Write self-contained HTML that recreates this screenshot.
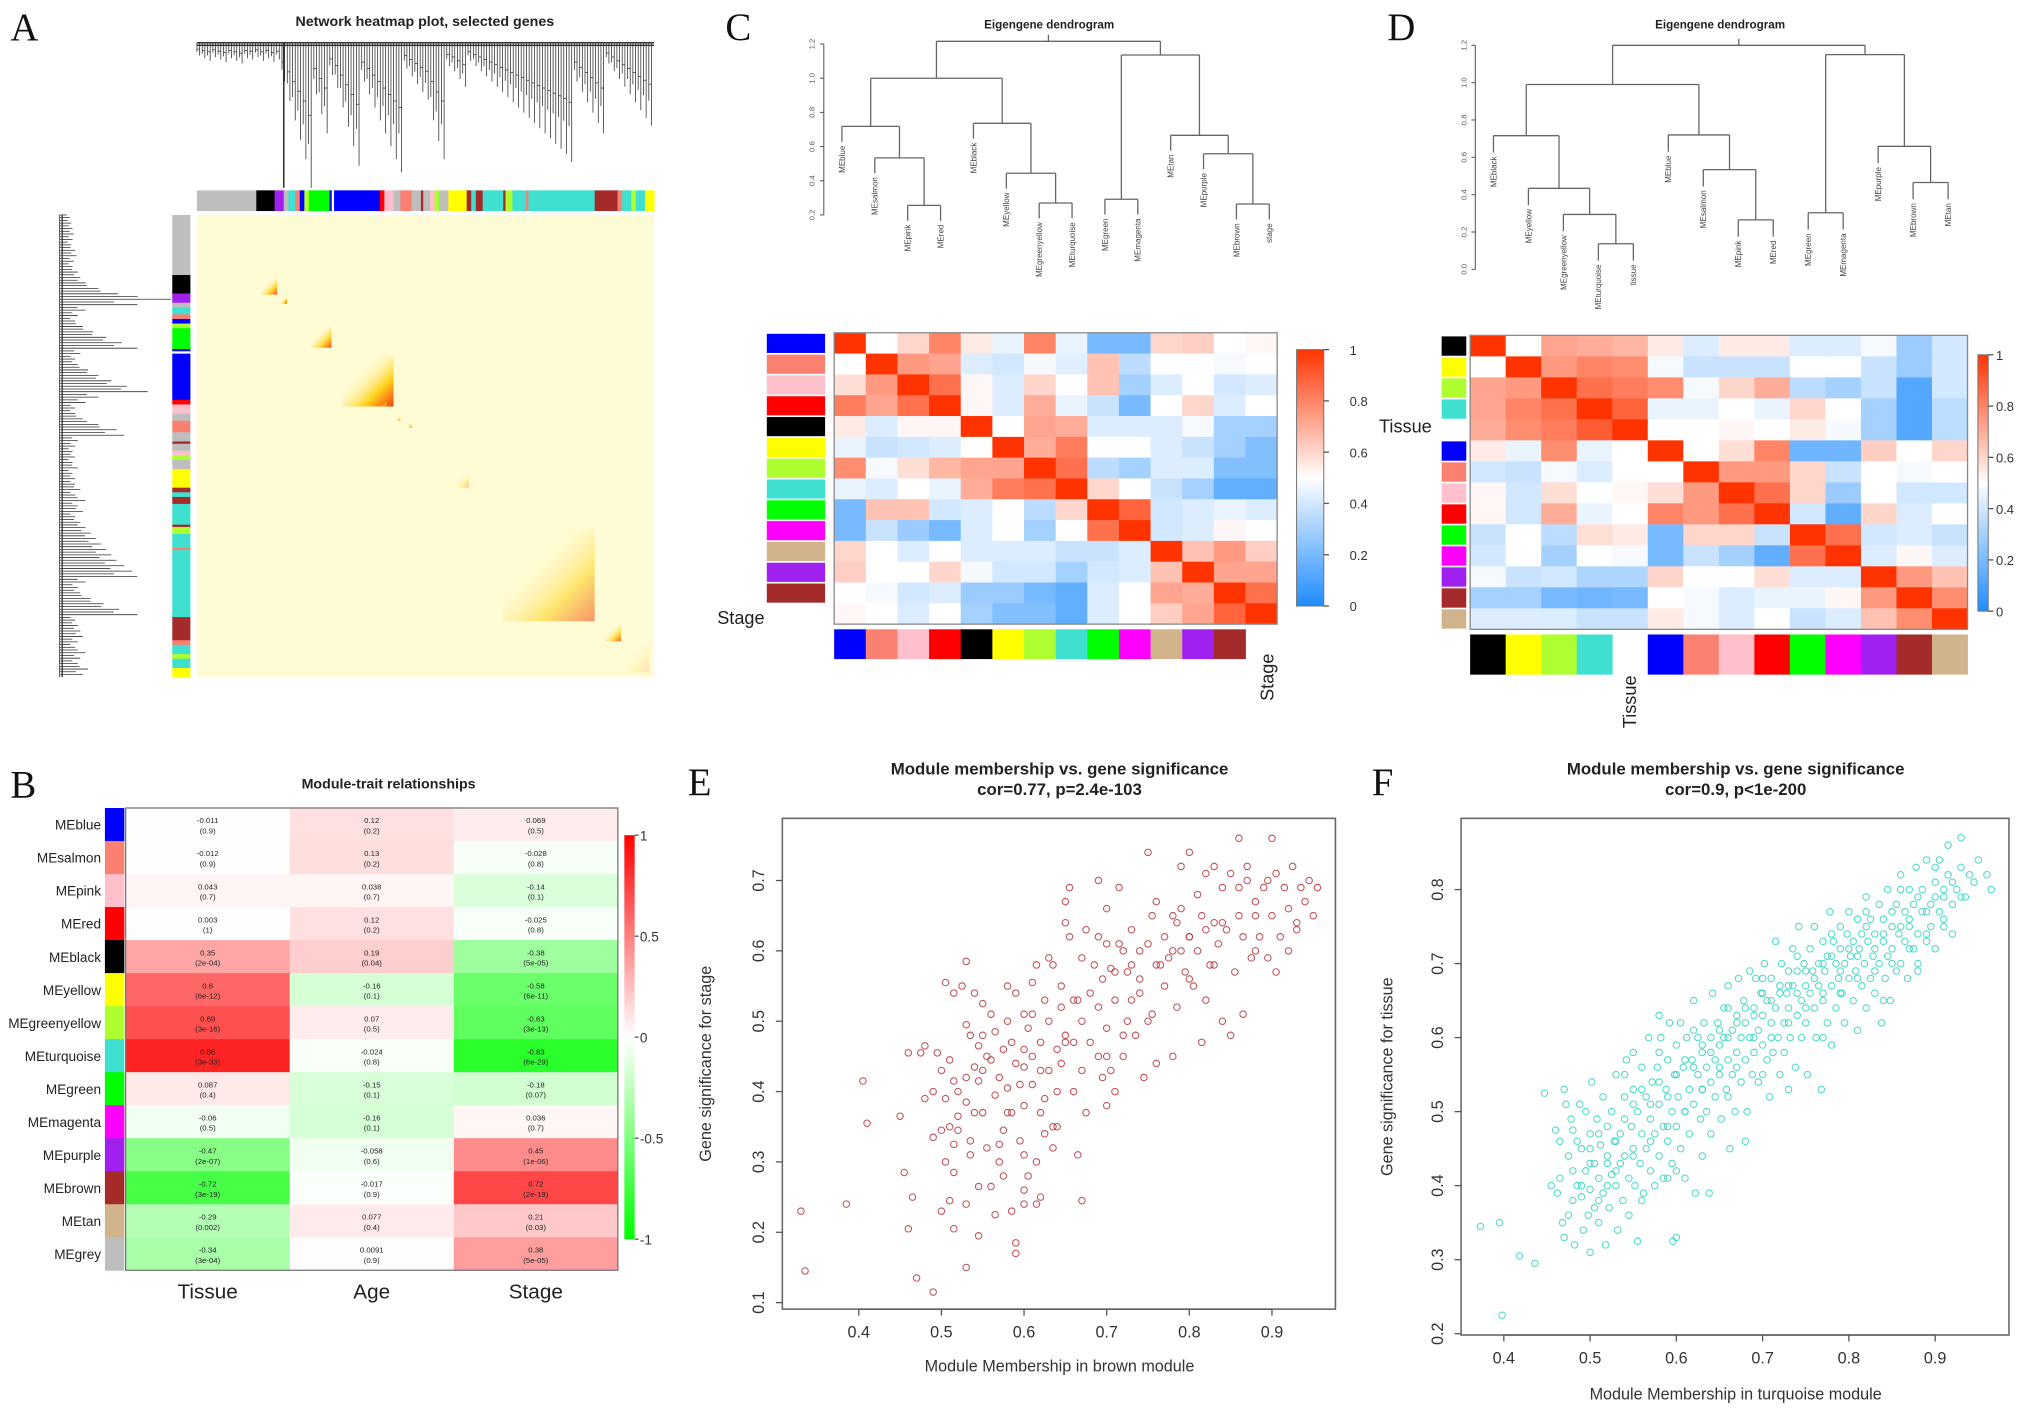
<!DOCTYPE html>
<html><head><meta charset="utf-8"><title>WGCNA figure</title>
<style>
html,body{margin:0;padding:0;background:#fff;}
svg{display:block;font-family:"Liberation Sans",sans-serif;}
.lt{font-family:"Liberation Serif",serif;font-size:30px;fill:#111;}
</style></head>
<body>
<svg id="fig" xmlns="http://www.w3.org/2000/svg" width="2031" height="1414" viewBox="0 0 1568 1092" preserveAspectRatio="none">
<text class="lt" x="8" y="31">A</text>
<text class="lt" x="8" y="616">B</text>
<text class="lt" x="560" y="31">C</text>
<text class="lt" x="1071" y="31">D</text>
<text class="lt" x="531" y="614">E</text>
<text class="lt" x="1059" y="614">F</text>
<g id="pA"></g>
<g id="pB"></g>
<g id="pC"></g>
<g id="pD"></g>
<g id="pE"></g>
<g id="pF"></g>
</svg>
<script>
const NS="http://www.w3.org/2000/svg";
const MC={blue:'#0000ff',salmon:'#fa8072',pink:'#ffc0cb',red:'#ff0000',black:'#000000',yellow:'#ffff00',greenyellow:'#adff2f',turquoise:'#40e0d0',green:'#00ff00',magenta:'#ff00ff',purple:'#a020f0',brown:'#a52a2a',tan:'#d2b48c',grey:'#bebebe',white:'#ffffff'};

// ---------- Panel A data ----------
const aModuleSegs=[[0,'grey'],[.13,'black'],[.17,'purple'],[.19,'grey'],[.2,'turquoise'],[.215,'salmon'],[.225,'blue'],[.235,'greenyellow'],[.245,'green'],[.29,'blue'],[.295,'white'],[.3,'blue'],[.4,'red'],[.41,'pink'],[.43,'grey'],[.445,'salmon'],[.47,'grey'],[.49,'brown'],[.495,'grey'],[.51,'pink'],[.52,'greenyellow'],[.53,'grey'],[.55,'yellow'],[.59,'brown'],[.6,'turquoise'],[.61,'brown'],[.625,'turquoise'],[.67,'brown'],[.675,'greenyellow'],[.69,'turquoise'],[.72,'salmon'],[.725,'turquoise'],[.87,'brown'],[.92,'salmon'],[.93,'turquoise'],[.95,'greenyellow'],[.96,'turquoise'],[.98,'yellow']];
const aTopBranch=[10,12,14,11,13,15,12,14,16,12,13,11,14,12,15,13,30,45,60,75,90,112,40,55,70,25,35,50,65,80,95,30,40,50,60,70,80,90,100,20,26,32,38,44,60,76,90,18,22,28,34,14,18,22,26,30,34,38,42,46,50,54,58,62,66,70,74,78,82,86,92,30,38,46,54,62,70,16,22,28,34,40,46,52,58,64];
const aLeftBranch=[8,9,10,11,10,9,12,13,11,10,14,16,20,30,45,86,60,20,14,12,18,26,36,48,60,16,12,14,22,30,40,52,68,30,20,12,12,18,30,44,50,14,12,10,12,10,14,10,12,12,16,12,20,14,18,12,16,20,24,28,32,36,40,44,50,56,60,20,14,16,24,34,46,60,12,14,16,18,14,12,20,16,14,22,18];
const aBlocks=[[.158,.155,.035,.9],[.19,.185,.014,1],[.272,.265,.045,.9],[.375,.36,.11,1],[.41,.41,.01,.7],[.44,.44,.01,.7],[.465,.455,.01,.8],[.58,.575,.03,.3],[.77,.78,.2,.55],[.91,.905,.035,.8],[.96,.96,.06,.15]];

// ---------- Panel B data ----------
const bModules=['blue','salmon','pink','red','black','yellow','greenyellow','turquoise','green','magenta','purple','brown','tan','grey'];
const bTraits=['Tissue','Age','Stage'];
const bCor=[[-0.011,0.12,0.069],[-0.012,0.13,-0.028],[0.043,0.038,-0.14],[0.003,0.12,-0.025],[0.35,0.19,-0.38],[0.6,-0.16,-0.58],[0.69,0.07,-0.63],[0.86,-0.024,-0.83],[0.087,-0.15,-0.18],[-0.06,-0.16,0.036],[-0.47,-0.058,0.45],[-0.72,-0.017,0.72],[-0.29,0.077,0.21],[-0.34,0.0091,0.38]];
const bP=[['0.9','0.2','0.5'],['0.9','0.2','0.8'],['0.7','0.7','0.1'],['1','0.2','0.8'],['2e-04','0.04','5e-05'],['6e-12','0.1','6e-11'],['3e-16','0.5','3e-13'],['3e-33','0.8','6e-29'],['0.4','0.1','0.07'],['0.5','0.1','0.7'],['2e-07','0.6','1e-06'],['3e-19','0.9','2e-19'],['0.002','0.4','0.03'],['3e-04','0.9','5e-05']];
const bLegendTicks=[1,0.5,0,-0.5,-1];

// ---------- Panel C data ----------
const cOrder=['blue','salmon','pink','red','black','yellow','greenyellow','turquoise','green','magenta','tan','purple','brown','stage'];
const cMat=[
[1,.5,.6,.8,.55,.45,.8,.45,.2,.2,.6,.62,.5,.52],
[.5,1,.75,.72,.42,.4,.48,.43,.65,.35,.5,.5,.48,.5],
[.58,.75,1,.85,.52,.42,.6,.5,.65,.3,.42,.5,.4,.42],
[.82,.72,.85,1,.52,.42,.7,.45,.38,.2,.5,.6,.42,.5],
[.55,.42,.52,.52,1,.5,.72,.7,.42,.42,.42,.48,.3,.3],
[.45,.38,.4,.42,.5,1,.7,.82,.5,.5,.42,.38,.3,.22],
[.78,.48,.58,.68,.72,.72,1,.85,.35,.3,.42,.42,.22,.22],
[.45,.42,.5,.45,.7,.82,.85,1,.6,.5,.38,.3,.15,.15],
[.2,.65,.65,.4,.42,.5,.35,.6,1,.88,.4,.42,.45,.42],
[.2,.38,.28,.2,.42,.5,.3,.5,.85,1,.4,.42,.52,.5],
[.6,.5,.42,.5,.42,.42,.42,.38,.38,.42,1,.65,.75,.62],
[.62,.5,.5,.6,.48,.4,.4,.3,.4,.42,.65,1,.72,.72],
[.5,.48,.4,.42,.28,.28,.2,.15,.42,.5,.72,.7,1,.85],
[.52,.5,.42,.5,.3,.22,.22,.15,.42,.5,.62,.72,.88,1]];
const cLeaves=['MEblue','MEsalmon','MEpink','MEred','MEblack','MEyellow','MEgreenyellow','MEturquoise','MEgreen','MEmagenta','MEtan','MEpurple','MEbrown','stage'];
const cTree={h:1.216,c:[{h:1.0,c:[{h:0.718,c:[0,{h:0.534,c:[1,{h:0.256,c:[2,3]}]}]},{h:0.736,c:[4,{h:0.444,c:[5,{h:0.27,c:[6,7]}]}]}]},{h:1.136,c:[{h:0.292,c:[8,9]},{h:0.666,c:[10,{h:0.558,c:[11,{h:0.264,c:[12,13]}]}]}]}]};
const cAxisTicks=[0.2,0.4,0.6,0.8,1.0,1.2];
const legendTicks01=[0,0.2,0.4,0.6,0.8,1];

// ---------- Panel D data ----------
const dOrder=['black','yellow','greenyellow','turquoise','tissue','blue','salmon','pink','red','green','magenta','purple','brown','tan'];
const dMat=[
[1,.5,.72,.7,.68,.55,.42,.55,.55,.42,.42,.48,.28,.4],
[.5,1,.75,.8,.78,.48,.38,.38,.38,.5,.5,.38,.28,.4],
[.72,.75,1,.85,.82,.78,.48,.6,.7,.35,.3,.38,.12,.4],
[.72,.8,.85,1,.88,.45,.45,.5,.45,.6,.5,.3,.12,.35],
[.7,.78,.82,.9,1,.5,.5,.52,.5,.55,.48,.3,.12,.35],
[.55,.45,.78,.45,.5,1,.5,.58,.8,.18,.18,.62,.5,.6],
[.4,.38,.48,.42,.5,.5,1,.75,.75,.6,.38,.5,.48,.5],
[.52,.4,.58,.5,.52,.58,.75,1,.85,.6,.28,.5,.4,.4],
[.52,.4,.7,.45,.5,.8,.75,.85,1,.4,.15,.6,.42,.5],
[.38,.5,.35,.58,.55,.2,.6,.6,.38,1,.85,.4,.42,.38],
[.4,.5,.3,.5,.48,.2,.38,.3,.15,.85,1,.42,.52,.42],
[.48,.38,.4,.32,.32,.6,.5,.5,.58,.42,.42,1,.75,.65],
[.3,.3,.2,.18,.2,.5,.48,.42,.45,.45,.52,.75,1,.78],
[.42,.42,.42,.38,.38,.55,.48,.42,.5,.38,.42,.65,.78,1]];
const dLeaves=['MEblack','MEyellow','MEgreenyellow','MEturquoise','tissue','MEblue','MEsalmon','MEpink','MEred','MEgreen','MEmagenta','MEpurple','MEbrown','MEtan'];
const dTree={h:1.2,c:[{h:0.99,c:[{h:0.716,c:[0,{h:0.434,c:[1,{h:0.294,c:[2,{h:0.137,c:[3,4]}]}]}]},{h:0.72,c:[5,{h:0.534,c:[6,{h:0.265,c:[7,8]}]}]}]},{h:1.15,c:[{h:0.303,c:[9,10]},{h:0.659,c:[11,{h:0.465,c:[12,13]}]}]}]};
const dAxisTicks=[0.0,0.2,0.4,0.6,0.8,1.0,1.2];

// ---------- Panel E data ----------
const eMM=[.33,.335,.385,.405,.41,.45,.455,.46,.46,.465,.47,.475,.48,.48,.49,.49,.49,.495,.5,.5,.5,.505,.505,.505,.51,.51,.51,.515,.515,.515,.515,.515,.52,.52,.52,.525,.53,.53,.53,.53,.53,.53,.535,.535,.535,.54,.54,.54,.545,.545,.545,.545,.55,.55,.55,.555,.555,.56,.56,.56,.565,.565,.565,.57,.57,.57,.575,.575,.575,.58,.58,.58,.585,.585,.585,.59,.59,.59,.59,.595,.595,.6,.6,.6,.6,.6,.605,.605,.61,.61,.61,.61,.615,.615,.615,.62,.62,.62,.625,.625,.625,.63,.63,.63,.635,.635,.635,.64,.64,.645,.645,.645,.65,.65,.65,.655,.655,.66,.66,.665,.665,.67,.67,.67,.67,.675,.675,.68,.68,.685,.69,.69,.69,.695,.695,.7,.7,.7,.7,.705,.705,.71,.71,.715,.715,.72,.72,.725,.725,.73,.73,.735,.74,.74,.745,.75,.75,.755,.755,.76,.76,.765,.77,.77,.775,.78,.78,.785,.785,.79,.79,.795,.8,.8,.805,.81,.81,.815,.815,.82,.82,.825,.83,.83,.835,.84,.84,.845,.85,.855,.86,.86,.865,.865,.87,.875,.88,.885,.89,.895,.9,.9,.905,.91,.915,.92,.92,.925,.93,.935,.94,.945,.95,.955,.905,.88,.87,.86,.83,.79,.76,.73,.71,.69,.66,.75,.8,.82,.85,.895,.93,.65,.6,.58,.55,.6,.62,.64,.7,.72,.74,.78,.8,.84,.88];
const eGS=[.23,.145,.24,.415,.355,.365,.285,.205,.455,.25,.135,.455,.465,.39,.115,.335,.4,.455,.23,.43,.345,.3,.39,.555,.35,.445,.245,.205,.285,.325,.415,.54,.365,.345,.4,.55,.495,.24,.42,.385,.15,.585,.33,.48,.31,.54,.435,.37,.465,.415,.265,.195,.48,.37,.525,.45,.32,.51,.445,.265,.485,.395,.225,.42,.325,.3,.46,.28,.345,.5,.405,.55,.47,.37,.23,.54,.44,.185,.17,.33,.41,.435,.31,.38,.26,.24,.49,.28,.45,.51,.41,.555,.58,.3,.24,.37,.47,.25,.34,.53,.39,.43,.5,.59,.58,.35,.32,.4,.46,.52,.44,.55,.48,.67,.64,.69,.62,.4,.47,.53,.31,.43,.5,.59,.245,.63,.37,.54,.47,.58,.7,.45,.52,.56,.42,.61,.66,.38,.49,.575,.43,.53,.4,.69,.61,.45,.6,.5,.57,.63,.53,.48,.6,.56,.42,.74,.61,.51,.65,.67,.44,.58,.55,.62,.59,.6,.45,.52,.64,.72,.66,.57,.74,.62,.55,.6,.68,.47,.65,.71,.53,.58,.64,.72,.61,.5,.69,.63,.48,.57,.65,.76,.51,.62,.72,.59,.67,.62,.69,.59,.76,.65,.71,.62,.69,.6,.66,.72,.64,.69,.67,.7,.65,.69,.57,.6,.7,.69,.58,.6,.58,.58,.57,.62,.53,.5,.62,.63,.71,.7,.63,.47,.46,.37,.43,.51,.43,.35,.45,.48,.54,.65,.56,.64,.65];
const eXTicks=[0.4,0.5,0.6,0.7,0.8,0.9];
const eYTicks=[0.1,0.2,0.3,0.4,0.5,0.6,0.7];

// ---------- Panel F data ----------
const fMM=[.373,.395,.398,.418,.436,.447,.455,.46,.462,.465,.465,.468,.47,.47,.472,.475,.475,.478,.48,.48,.482,.485,.485,.488,.49,.49,.492,.495,.495,.498,.5,.5,.5,.502,.505,.505,.508,.51,.51,.512,.515,.515,.518,.52,.52,.522,.525,.525,.528,.53,.53,.532,.535,.535,.538,.54,.54,.542,.545,.545,.548,.55,.55,.552,.555,.555,.558,.56,.56,.562,.565,.565,.568,.57,.57,.572,.575,.575,.578,.58,.58,.582,.585,.585,.588,.59,.59,.592,.595,.595,.596,.598,.6,.6,.602,.605,.605,.608,.61,.61,.612,.615,.615,.618,.62,.62,.622,.625,.625,.628,.63,.63,.632,.635,.635,.638,.64,.64,.642,.645,.645,.648,.65,.65,.652,.655,.655,.658,.66,.66,.662,.665,.665,.668,.67,.67,.672,.675,.675,.678,.68,.68,.682,.685,.685,.688,.69,.69,.692,.695,.695,.698,.7,.7,.702,.705,.705,.708,.71,.71,.712,.715,.715,.718,.72,.72,.722,.725,.725,.728,.73,.73,.732,.735,.735,.738,.74,.74,.742,.745,.745,.748,.75,.75,.752,.755,.755,.758,.76,.76,.762,.765,.765,.768,.77,.77,.772,.775,.775,.778,.78,.78,.782,.785,.785,.788,.79,.79,.792,.795,.795,.798,.8,.8,.802,.805,.805,.808,.81,.81,.812,.815,.815,.818,.82,.82,.822,.825,.825,.828,.83,.83,.835,.835,.838,.84,.84,.842,.845,.845,.848,.85,.85,.855,.855,.858,.86,.86,.865,.865,.868,.87,.87,.875,.875,.878,.88,.88,.885,.885,.89,.89,.895,.895,.9,.9,.905,.905,.91,.91,.915,.915,.92,.92,.925,.93,.93,.935,.94,.945,.95,.96,.965,.64,.6,.56,.52,.5,.48,.55,.58,.66,.7,.73,.77,.84,.88,.68,.63,.59,.6,
.5,.51,.52,.53,.54,.55,.56,.57,.58,.59,.6,.61,.62,.63,.64,.65,.66,.67,.68,.69,.7,.71,.72,.73,.74,.75,.76,.77,.78,.79,.8,.81,.82,.83,.84,.85,.86,.87,.88,.89,.9,.91,.92,.93,.49,.51,.53,.55,.57,.59,.61,.63,.65,.67,.69,.71,.73,.75,.77,.79,.81,.83,.85,.87,.89,.91,.54,.58,.62,.66,.7,.74,.78,.82,.86,.9];
const fGS=[.345,.35,.225,.305,.295,.525,.4,.475,.39,.46,.41,.35,.33,.53,.51,.44,.36,.49,.42,.475,.32,.46,.4,.51,.385,.45,.34,.42,.5,.36,.395,.47,.31,.54,.43,.37,.49,.41,.35,.455,.52,.39,.32,.44,.48,.37,.5,.415,.46,.4,.55,.34,.47,.43,.38,.52,.44,.57,.41,.36,.48,.45,.53,.4,.5,.325,.43,.56,.47,.39,.52,.45,.6,.42,.49,.54,.47,.4,.56,.51,.44,.6,.48,.41,.53,.57,.46,.62,.5,.43,.325,.55,.59,.48,.52,.45,.62,.56,.5,.41,.6,.53,.47,.57,.65,.51,.39,.55,.6,.49,.58,.53,.62,.56,.5,.39,.6,.54,.66,.57,.52,.62,.59,.55,.49,.64,.6,.53,.57,.67,.45,.61,.55,.5,.63,.58,.68,.6,.54,.65,.57,.62,.5,.69,.6,.55,.64,.58,.68,.61,.54,.66,.59,.63,.7,.57,.65,.52,.62,.68,.58,.64,.73,.6,.67,.55,.7,.62,.58,.66,.64,.69,.6,.72,.67,.56,.63,.69,.75,.65,.6,.7,.67,.62,.55,.72,.66,.69,.64,.75,.6,.7,.67,.53,.73,.65,.69,.62,.71,.77,.67,.59,.73,.7,.64,.68,.75,.72,.66,.7,.62,.74,.68,.77,.71,.65,.73,.69,.76,.61,.72,.67,.74,.7,.79,.64,.73,.68,.76,.71,.66,.74,.78,.7,.62,.73,.76,.68,.8,.71,.65,.75,.72,.78,.69,.74,.82,.7,.77,.73,.68,.8,.75,.72,.78,.83,.74,.69,.77,.8,.73,.84,.78,.75,.81,.72,.77,.84,.79,.75,.82,.86,.78,.74,.8,.83,.87,.79,.82,.81,.84,.82,.8,.47,.42,.38,.4,.43,.38,.58,.63,.52,.55,.53,.6,.65,.7,.46,.44,.41,.33,
.45,.47,.43,.46,.49,.51,.53,.51,.54,.52,.55,.57,.56,.59,.58,.61,.6,.62,.64,.63,.66,.65,.66,.67,.66,.69,.68,.7,.71,.69,.72,.71,.75,.72,.74,.77,.75,.76,.79,.77,.79,.8,.81,.79,.4,.38,.42,.44,.46,.48,.5,.53,.56,.56,.6,.6,.62,.64,.66,.66,.68,.69,.7,.72,.74,.76,.55,.58,.61,.64,.68,.71,.74,.77,.8,.83];
const fXTicks=[0.4,0.5,0.6,0.7,0.8,0.9];
const fYTicks=[0.2,0.3,0.4,0.5,0.6,0.7,0.8];

// ---------- helpers ----------
function mk(tag,attrs,parent){const e=document.createElementNS(NS,tag);for(const k in attrs)e.setAttribute(k,attrs[k]);if(parent)parent.appendChild(e);return e;}
function txt(parent,x,y,s,size,extra){const t=mk('text',Object.assign({x:x,y:y,'font-size':size,fill:'#222'},extra||{}),parent);t.textContent=s;return t;}
function hex(c){return [parseInt(c.slice(1,3),16),parseInt(c.slice(3,5),16),parseInt(c.slice(5,7),16)];}
function lerp(a,b,t){const A=hex(a),B=hex(b);return 'rgb('+A.map((v,i)=>Math.round(v+(B[i]-v)*t)).join(',')+')';}
function bwr(v){return v<0.5?lerp('#ffffff','#1e8cff',(0.5-v)/0.5):lerp('#ffffff','#ff3300',(v-0.5)/0.5);}
function gwr(v){return v<0?lerp('#ffffff','#00ff00',Math.min(1,-v)):lerp('#ffffff','#ff0000',Math.min(1,v));}
function lin(d0,d1,p0,p1){return v=>p0+(v-d0)/(d1-d0)*(p1-p0);}

// ---------- Panel A ----------
(function(){
 const g=document.getElementById('pA');
 const X0=152,X1=505,Y0=166,Y1=523;
 const t=txt(g,328,20,'Network heatmap plot, selected genes',11,{'text-anchor':'middle','font-weight':'bold'});
 
 const W=X1-X0,H=Y1-Y0;
 aModuleSegs.forEach((s,i)=>{
  const e=i<aModuleSegs.length-1?aModuleSegs[i+1][0]:1;
  const r=mk('rect',{x:X0+s[0]*W,y:147,width:(e-s[0])*W+0.3,height:16,fill:MC[s[1]]},g);
  
  const r2=mk('rect',{x:133,y:Y0+s[0]*H,width:14,height:(e-s[0])*H+0.3,fill:MC[s[1]]},g);
  
 });
 const dg=mk('g',{stroke:'#333','stroke-width':0.6,fill:'none'},g);
 
 mk('line',{x1:X0,y1:33,x2:X1,y2:33,'stroke-width':1.2},dg);
 const n=aTopBranch.length,step=W/n;
 aTopBranch.forEach((L,i)=>{
  const x=X0+i*step;
  for(let k=0;k<2;k++){
   const xx=x+k*step/2,LL=L*(0.7+0.3*k);
   mk('line',{x1:xx,y1:33,x2:xx,y2:33+LL},dg);
  }
  mk('line',{x1:x,y1:33+L*0.5,x2:x+step/2,y2:33+L*0.5},dg);
  mk('line',{x1:x,y1:35,x2:x+step,y2:35,'stroke-width':1.2},dg);
 });
 mk('line',{x1:X0+0.19*W,y1:33,x2:X0+0.19*W,y2:145,'stroke-width':1.2},dg);
 const lg=mk('g',{stroke:'#333','stroke-width':0.6,fill:'none'},g);
 
 mk('line',{x1:46,y1:Y0,x2:46,y2:Y1},lg);
 const m=aLeftBranch.length,st=H/m;
 aLeftBranch.forEach((L,i)=>{
  const y=Y0+i*st;
  for(let k=0;k<2;k++){
   const yy=y+k*st/2,LL=L*(0.7+0.3*k);
   mk('line',{x1:46,y1:yy,x2:46+LL,y2:yy},lg);
  }
  mk('line',{x1:48,y1:y,x2:48,y2:y+st,'stroke-width':1},lg);
 });
 const defs=mk('defs',{},g);
 const gr=mk('linearGradient',{id:'blkA',x1:0,y1:0,x2:1,y2:1},defs);
 mk('stop',{offset:'0.3','stop-color':'#fffbd4','stop-opacity':0},gr);
 mk('stop',{offset:'0.7','stop-color':'#ffd21a'},gr);
 mk('stop',{offset:'1','stop-color':'#f04010'},gr);
 const hm=mk('rect',{x:X0,y:Y0,width:W,height:H,fill:'#fffbd4'},g);
 
 aBlocks.forEach(b=>{
  const s=b[2]*W;
  const r=mk('rect',{x:X0+b[0]*W-s/2,y:Y0+b[1]*H-s/2,width:s,height:s,fill:'url(#blkA)',opacity:b[3]},g);
  
 });
})();

// ---------- Panel B ----------
(function(){
 const g=document.getElementById('pB');
 const X0=97,X1=477,Y0=624,Y1=981;
 const rh=(Y1-Y0)/bModules.length,cw=(X1-X0)/bTraits.length;
 const t=txt(g,300,609,'Module-trait relationships',11,{'text-anchor':'middle','font-weight':'bold'});
 
 bModules.forEach((m,i)=>{
  const y=Y0+i*rh;
  const l=txt(g,78,y+rh/2+4,'ME'+m,10.5,{'text-anchor':'end'});
  
  const s=mk('rect',{x:81,y:y,width:15,height:rh+0.3,fill:MC[m]},g);
  
  bTraits.forEach((tr,j)=>{
   const v=bCor[i][j];
   const c=mk('rect',{x:X0+j*cw,y:y,width:cw+0.3,height:rh+0.3,fill:gwr(v)},g);
   
   const cx=X0+(j+0.5)*cw;
   txt(g,cx,y+rh/2-1,String(v),6,{'text-anchor':'middle'});
   txt(g,cx,y+rh/2+7,'('+bP[i][j]+')',6,{'text-anchor':'middle'});
  });
 });
 mk('rect',{x:X0,y:Y0,width:X1-X0,height:Y1-Y0,fill:'none',stroke:'#777','stroke-width':1},g);
 bTraits.forEach((tr,j)=>{const l=txt(g,X0+(j+0.5)*cw,1003,tr,16,{'text-anchor':'middle'});});
 const defs=mk('defs',{},g);
 const gr=mk('linearGradient',{id:'gwrL',x1:0,y1:0,x2:0,y2:1},defs);
 mk('stop',{offset:0,'stop-color':'#ff0000'},gr);mk('stop',{offset:0.5,'stop-color':'#ffffff'},gr);mk('stop',{offset:1,'stop-color':'#00ff00'},gr);
 const LY0=645,LY1=957;
 const lb=mk('rect',{x:482,y:LY0,width:8,height:LY1-LY0,fill:'url(#gwrL)'},g);
 
 const ly=lin(1,-1,LY0,LY1);
 bLegendTicks.forEach(v=>{mk('line',{x1:490,y1:ly(v),x2:493,y2:ly(v),stroke:'#555'},g);txt(g,494,ly(v)+4,String(v),10.5,{fill:'#333'});});
})();

// ---------- dendrogram + heatmap generic ----------
function drawDendro(g,tree,leaves,leafX,yOf,hang){
 const dg=mk('g',{stroke:'#666','stroke-width':1,fill:'none'},g);
 
 function rec(node){
  const pts=node.c.map(ch=>{
   if(typeof ch==='number'){
    const x=leafX(ch),yb=yOf(node.h-hang);
    mk('line',{x1:x,y1:yOf(node.h),x2:x,y2:yb},dg);
    const t=txt(g,0,0,leaves[ch],6.2,{'text-anchor':'end',fill:'#444',transform:'translate('+(x+2.2)+','+(yb+3)+') rotate(-90)'});
    
    return x;
   }
   const r=rec(ch);
   mk('line',{x1:r,y1:yOf(ch.h),x2:r,y2:yOf(node.h)},dg);
   return r;
  });
  mk('line',{x1:pts[0],y1:yOf(node.h),x2:pts[1],y2:yOf(node.h)},dg);
  return (pts[0]+pts[1])/2;
 }
 const x=rec(tree);
 mk('line',{x1:x,y1:yOf(tree.h),x2:x,y2:yOf(tree.h)-5},dg);
}
function drawEigen(g,opt){
 const t=txt(g,opt.titleX,22,'Eigengene dendrogram',9,{'text-anchor':'middle','font-weight':'bold'});
 
 const ax=mk('g',{stroke:'#555','stroke-width':0.8},g);
 
 mk('line',{x1:opt.axX,y1:opt.yOf(opt.ticks[0]),x2:opt.axX,y2:opt.yOf(opt.ticks[opt.ticks.length-1])},ax);
 opt.ticks.forEach(v=>{mk('line',{x1:opt.axX,y1:opt.yOf(v),x2:opt.axX-3,y2:opt.yOf(v)},ax);txt(g,0,0,v.toFixed(1),6,{'text-anchor':'middle',fill:'#555',transform:'translate('+(opt.axX-7)+','+opt.yOf(v)+') rotate(-90)'});});
 drawDendro(g,opt.tree,opt.leaves,opt.leafX,opt.yOf,opt.hang);
 const n=opt.order.length,cw=(opt.X1-opt.X0)/n,rh=(opt.Y1-opt.Y0)/n;
 opt.mat.forEach((row,i)=>row.forEach((v,j)=>{
  const r=mk('rect',{x:opt.X0+j*cw,y:opt.Y0+i*rh,width:cw+0.3,height:rh+0.3,fill:bwr(v)},g);
  
 }));
 mk('rect',{x:opt.X0,y:opt.Y0,width:opt.X1-opt.X0,height:opt.Y1-opt.Y0,fill:'none',stroke:'#888','stroke-width':1},g);
 opt.order.forEach((m,i)=>{
  if(!MC[m])return;
  const a=mk('rect',{x:opt.LX0,y:opt.Y0+i*rh+(opt.gap||0),width:opt.LX1-opt.LX0,height:rh-(opt.gap||0)*2+0.3,fill:MC[m]},g);
  
  const b=mk('rect',{x:opt.X0+i*cw,y:opt.BY0,width:cw+0.3,height:opt.BY1-opt.BY0,fill:MC[m]},g);
  
 });
 const defs=mk('defs',{},g);
 const gr=mk('linearGradient',{id:opt.id,x1:0,y1:0,x2:0,y2:1},defs);
 mk('stop',{offset:0,'stop-color':'#ff3300'},gr);mk('stop',{offset:0.5,'stop-color':'#ffffff'},gr);mk('stop',{offset:1,'stop-color':'#1e8cff'},gr);
 const lg=mk('rect',{x:opt.LgX0,y:opt.LgY0,width:opt.LgX1-opt.LgX0,height:opt.LgY1-opt.LgY0,fill:'url(#'+opt.id+')',stroke:'#777','stroke-width':0.8},g);
 
 const ly=lin(0,1,opt.LgY1,opt.LgY0);
 legendTicks01.forEach(v=>{mk('line',{x1:opt.LgX1,y1:ly(v),x2:opt.LgX1+4,y2:ly(v),stroke:'#555'},g);txt(g,opt.LgX1+(opt.lblOff||6),ly(v)+4,String(v),opt.lblSize||10,{fill:'#333'});});
}

// ---------- Panel C ----------
(function(){
 const g=document.getElementById('pC');
 const yOf=lin(0.2,1.2,166,34);
 drawEigen(g,{titleX:810,axX:636,ticks:cAxisTicks,yOf:yOf,tree:cTree,leaves:cLeaves,leafX:i=>650+i*25.38,hang:0.09,
  order:cOrder,mat:cMat,X0:644,X1:986,Y0:257,Y1:482,LX0:592,LX1:637,gap:0.8,BY0:486,BY1:509,
  id:'bwrC',LgX0:1001,LgX1:1022,LgY0:270,LgY1:468,lblOff:20,lblSize:10});
 const s1=txt(g,572,482,'Stage',14,{'text-anchor':'middle'});
 const s2=txt(g,0,0,'Stage',14,{'text-anchor':'middle',transform:'translate(983,523) rotate(-90)'});
})();

// ---------- Panel D ----------
(function(){
 const g=document.getElementById('pD');
 const yOf=lin(0,1.2,208,35);
 drawEigen(g,{titleX:1328,axX:1139,ticks:dAxisTicks,yOf:yOf,tree:dTree,leaves:dLeaves,leafX:i=>1153+i*27.0,hang:0.09,
  order:dOrder,mat:dMat,X0:1135,X1:1519,Y0:259,Y1:486,LX0:1113,LX1:1132,gap:0.8,BY0:490,BY1:521,
  id:'bwrD',LgX0:1527,LgX1:1535,LgY0:274,LgY1:472,lblOff:6,lblSize:10});
 const s1=txt(g,1085,334,'Tissue',14,{'text-anchor':'middle'});
 const s2=txt(g,0,0,'Tissue',14,{'text-anchor':'middle',transform:'translate(1263,542) rotate(-90)'});
})();

// ---------- scatter generic ----------
function scatter(g,o){
 const t1=txt(g,o.cx,598,'Module membership vs. gene significance',13,{'text-anchor':'middle','font-weight':'bold'});
 
 txt(g,o.cx,614,o.sub,13,{'text-anchor':'middle','font-weight':'bold'});
 const xs=lin(o.xt[0],o.xt[1],o.xp[0],o.xp[1]),ys=lin(o.yt[0],o.yt[1],o.yp[0],o.yp[1]);
 const pg=mk('g',{fill:'none',stroke:o.col,'stroke-width':0.8,'stroke-opacity':0.85},g);
 
 o.xd.forEach((x,i)=>{const c=mk('circle',{cx:xs(x),cy:ys(o.yd[i]),r:2.5},pg);});
 const fr=mk('rect',{x:o.B[0],y:o.B[1],width:o.B[2]-o.B[0],height:o.B[3]-o.B[1],fill:'none',stroke:'#666','stroke-width':1.2},g);
 
 const ax=mk('g',{stroke:'#555','stroke-width':1},g);
 
 o.xTicks.forEach(v=>{const x=xs(v);mk('line',{x1:x,y1:o.B[3],x2:x,y2:o.B[3]+5},ax);txt(g,x,o.B[3]+22,v.toFixed(1),12.5,{'text-anchor':'middle',fill:'#333'});});
 mk('line',{x1:xs(o.xTicks[0]),y1:o.B[3],x2:xs(o.xTicks[o.xTicks.length-1]),y2:o.B[3]},ax);
 const ay=mk('g',{stroke:'#555','stroke-width':1},g);
 
 o.yTicks.forEach(v=>{const y=ys(v);mk('line',{x1:o.B[0],y1:y,x2:o.B[0]-5,y2:y},ay);txt(g,0,0,v.toFixed(1),12.5,{'text-anchor':'middle',fill:'#333',transform:'translate('+(o.B[0]-14)+','+y+') rotate(-90)'});});
 const xl=txt(g,o.cx,o.xlY,o.xl,12.5,{'text-anchor':'middle',fill:'#333'});
 
 const yl=txt(g,0,0,o.yl,12.5,{'text-anchor':'middle',fill:'#333',transform:'translate('+o.ylX+','+((o.B[1]+o.B[3])/2)+') rotate(-90)'});
 
}
scatter(document.getElementById('pE'),{cx:818,sub:'cor=0.77, p=2.4e-103',col:'#b5303a',xd:eMM,yd:eGS,
 xt:[0.4,0.9],xp:[663,982],yt:[0.1,0.7],yp:[1006,680],B:[604,632,1031,1011],xTicks:eXTicks,yTicks:eYTicks,
 xlY:1059,xl:'Module Membership in brown module',yl:'Gene significance for stage',ylX:549});
scatter(document.getElementById('pF'),{cx:1340,sub:'cor=0.9, p<1e-200',col:'#2ed3c0',xd:fMM,yd:fGS,
 xt:[0.4,0.9],xp:[1161,1494],yt:[0.2,0.8],yp:[1030,687],B:[1128,632,1551,1031],xTicks:fXTicks,yTicks:fYTicks,
 xlY:1081,xl:'Module Membership in turquoise module',yl:'Gene significance for tissue',ylX:1075});
</script>
</body></html>
